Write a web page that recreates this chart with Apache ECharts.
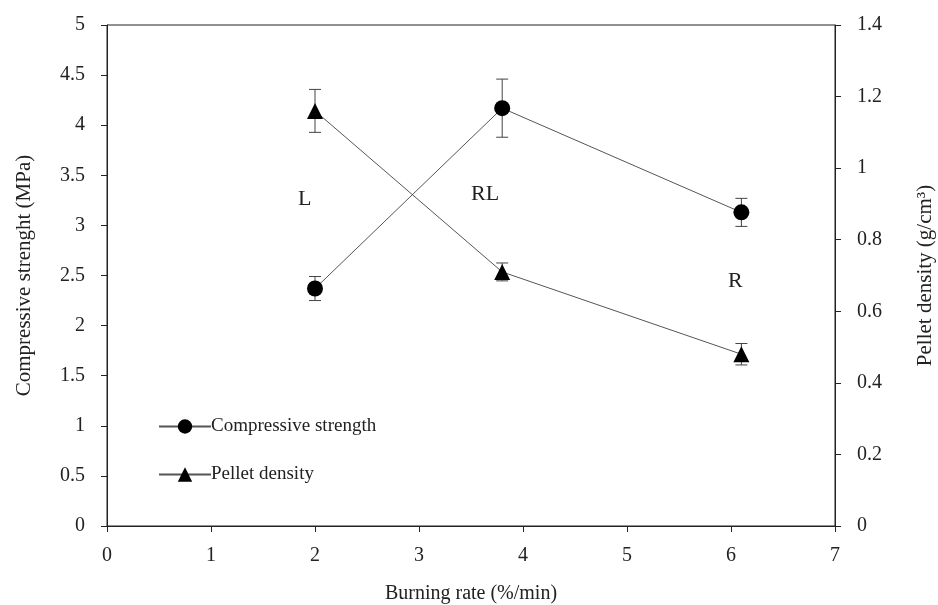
<!DOCTYPE html>
<html>
<head>
<meta charset="utf-8">
<script src="https://cdn.jsdelivr.net/npm/echarts@6/dist/echarts.min.js"></script>
<style>
  html, body { margin: 0; padding: 0; background: #fff; }
  #chart { width: 938px; height: 605px; }
</style>
</head>
<body>
<div id="chart"></div>
<script>
// burning rate (%/min)
var burningRate = [2, 3.8, 6.1];
// compressive strength (MPa) and its error
var strength = [2.37, 4.17, 3.13];
var strengthErr = [0.12, 0.29, 0.14];
// pellet density (g/cm3) and its error
var density = [1.16, 0.71, 0.48];
var densityErr = [0.06, 0.025, 0.03];

var font = 'Liberation Serif';
var ink = '#222';

function pairs(xs, ys) {
    var out = [];
    for (var i = 0; i < xs.length; i++) out.push([xs[i], ys[i]]);
    return out;
}
function errData(xs, ys, es) {
    var out = [];
    for (var i = 0; i < xs.length; i++) out.push([xs[i], ys[i] - es[i], ys[i] + es[i]]);
    return out;
}
function renderErr(params, api) {
    var x = api.value(0);
    var lo = api.coord([x, api.value(1)]);
    var hi = api.coord([x, api.value(2)]);
    var w = 6;
    var st = {stroke: '#444', lineWidth: 1};
    return {
        type: 'group',
        children: [
            {type: 'line', shape: {x1: lo[0], y1: lo[1], x2: hi[0], y2: hi[1]}, style: st},
            {type: 'line', shape: {x1: lo[0] - w, y1: lo[1], x2: lo[0] + w, y2: lo[1]}, style: st},
            {type: 'line', shape: {x1: hi[0] - w, y1: hi[1], x2: hi[0] + w, y2: hi[1]}, style: st}
        ]
    };
}

var chart = echarts.init(document.getElementById('chart'));
chart.setOption({
    animation: false,
    textStyle: {fontFamily: font},
    grid: {left: 107, right: 103, top: 25, bottom: 79, show: true, borderColor: ink, borderWidth: 1,
        containLabel: false, outerBoundsMode: 'none'},
    legend: {
        orient: 'vertical',
        left: 153,
        top: 412,
        itemWidth: 52,
        itemHeight: 18,
        itemGap: 29,
        textStyle: {fontFamily: font, fontSize: 19, color: ink, padding: [0, 0, 0, -5]},
        data: ['Compressive strength', 'Pellet density']
    },
    xAxis: {
        type: 'value', min: 0, max: 7, interval: 1,
        name: 'Burning rate (%/min)', nameLocation: 'middle', nameGap: 58,
        nameTextStyle: {fontFamily: font, fontSize: 20, color: ink},
        axisLine: {lineStyle: {color: ink}},
        axisTick: {show: true, inside: false, length: 6, lineStyle: {color: ink}},
        axisLabel: {fontFamily: font, fontSize: 20, color: ink, margin: 20},
        splitLine: {show: false}
    },
    yAxis: [{
        type: 'value', min: 0, max: 5, interval: 0.5,
        name: 'Compressive strenght (MPa)', nameLocation: 'middle', nameGap: 72,
        nameTextStyle: {fontFamily: font, fontSize: 21, color: ink},
        axisLine: {show: true, lineStyle: {color: ink}},
        axisTick: {show: true, inside: false, length: 6, lineStyle: {color: ink}},
        axisLabel: {fontFamily: font, fontSize: 20, color: ink, margin: 22},
        splitLine: {show: false}
    }, {
        type: 'value', min: 0, max: 1.4, interval: 0.2, position: 'right',
        name: 'Pellet density (g/cm³)', nameLocation: 'middle', nameGap: 80, nameRotate: 90,
        nameTextStyle: {fontFamily: font, fontSize: 21, color: ink},
        axisLine: {show: true, lineStyle: {color: ink}},
        axisTick: {show: true, inside: false, length: 6, lineStyle: {color: ink}},
        axisLabel: {fontFamily: font, fontSize: 20, color: ink, margin: 22},
        splitLine: {show: false}
    }],
    series: [{
        name: 'Compressive strength',
        type: 'line',
        yAxisIndex: 0,
        data: pairs(burningRate, strength),
        symbol: 'circle', symbolSize: 16,
        itemStyle: {color: '#000'},
        lineStyle: {color: '#555', width: 1},
        z: 3
    }, {
        name: 'Pellet density',
        type: 'line',
        yAxisIndex: 1,
        data: pairs(burningRate, density),
        symbol: 'triangle', symbolSize: 16,
        itemStyle: {color: '#000'},
        lineStyle: {color: '#555', width: 1},
        z: 3
    }, {
        type: 'custom',
        yAxisIndex: 0,
        renderItem: renderErr,
        data: errData(burningRate, strength, strengthErr),
        z: 2
    }, {
        type: 'custom',
        yAxisIndex: 1,
        renderItem: renderErr,
        data: errData(burningRate, density, densityErr),
        z: 2
    }],
    graphic: [
        {type: 'text', left: 298, top: 188, style: {text: 'L', fontFamily: font, fontSize: 22, fill: ink}},
        {type: 'text', left: 471, top: 183, style: {text: 'RL', fontFamily: font, fontSize: 22, fill: ink}},
        {type: 'text', left: 728, top: 270, style: {text: 'R', fontFamily: font, fontSize: 22, fill: ink}}
    ]
});
</script>
</body>
</html>
